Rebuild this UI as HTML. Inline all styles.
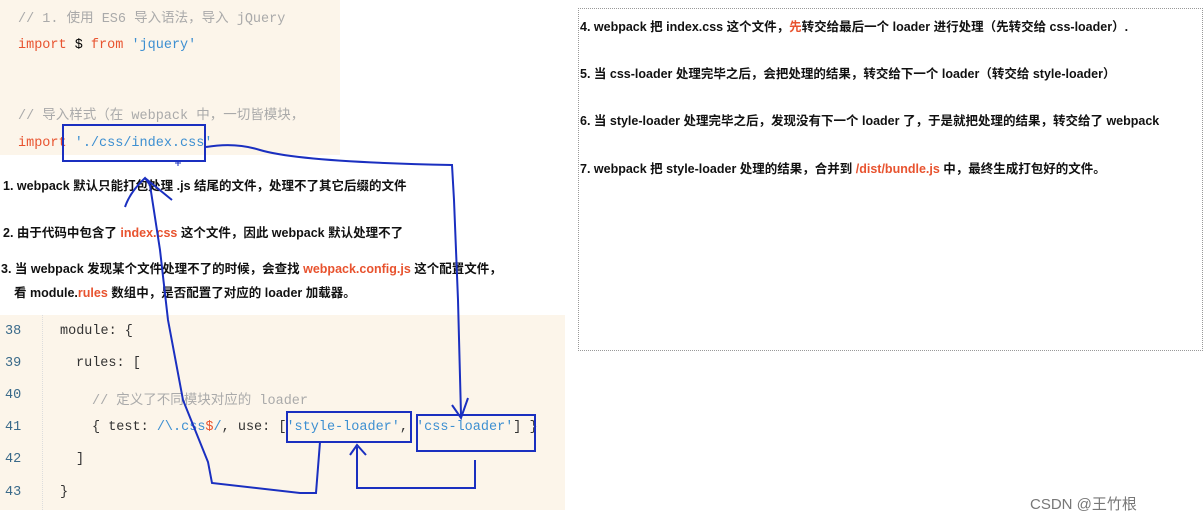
<!DOCTYPE html>
<html><head><meta charset="utf-8"><style>
body{margin:0;width:1203px;height:520px;background:#fff;position:relative;overflow:hidden;font-family:"Liberation Sans","Noto Sans CJK SC",sans-serif}
.a{position:absolute;white-space:nowrap}
.code{font-family:"Liberation Mono","Noto Sans CJK SC",monospace;font-size:13.5px}
.b{font-weight:bold;font-size:12.5px;color:#111}
.r{color:#e8532f}
.kw{color:#e8532f}.s{color:#3d8fd1}.c{color:#aaa}.n{color:#3a6a8a}
</style></head><body>
<div class="a" style="left:0;top:0;width:340px;height:155px;background:#fcf5ea"></div>
<div class="a" style="left:0;top:315px;width:565px;height:195px;background:#fcf5ea"></div>
<div class="a" style="left:42px;top:315px;width:1px;height:195px;border-left:1px dotted #ddd"></div>
<div class="a code c" style="left:18px;top:6px">// 1. 使用 ES6 导入语法，导入 jQuery</div>
<div class="a code" style="left:18px;top:38px"><span class="kw">import</span> $ <span class="kw">from</span> <span class="s">'jquery'</span></div>
<div class="a code c" style="left:18px;top:103px">// 导入样式（在 webpack 中，一切皆模块，</div>
<div class="a code" style="left:18px;top:136px"><span class="kw">import</span> <span class="s">'./css/index.css'</span></div>

<div class="a b" style="left:3px;top:175px">1. webpack 默认只能打包处理 .js 结尾的文件，处理不了其它后缀的文件</div>
<div class="a b" style="left:3px;top:222px">2. 由于代码中包含了 <span class="r">index.css</span> 这个文件，因此 webpack 默认处理不了</div>
<div class="a b" style="left:1px;top:258px">3. 当 webpack 发现某个文件处理不了的时候，会查找 <span class="r">webpack.config.js</span> 这个配置文件，</div>
<div class="a b" style="left:14px;top:282px">看 module.<span class="r">rules</span> 数组中，是否配置了对应的 loader 加载器。</div>

<div class="a code n" style="left:5px;top:324px">38</div>
<div class="a code n" style="left:5px;top:356px">39</div>
<div class="a code n" style="left:5px;top:388px">40</div>
<div class="a code n" style="left:5px;top:420px">41</div>
<div class="a code n" style="left:5px;top:452px">42</div>
<div class="a code n" style="left:5px;top:485px">43</div>
<div class="a code" style="left:60px;top:324px;color:#333">module: {</div>
<div class="a code" style="left:76px;top:356px;color:#333">rules: [</div>
<div class="a code c" style="left:92px;top:388px">// 定义了不同模块对应的 loader</div>
<div class="a code" style="left:92px;top:420px;color:#333">{ test: <span class="s">/\.css</span><span class="kw">$</span><span class="s">/</span>, use: [<span class="s">'style-loader'</span>, <span class="s">'css-loader'</span>] }</div>
<div class="a code" style="left:76px;top:452px;color:#333">]</div>
<div class="a code" style="left:60px;top:485px;color:#333">}</div>

<div class="a" style="left:578px;top:8px;width:623px;height:341px;border:1px dotted #999"></div>
<div class="a b" style="left:580px;top:16px">4. webpack 把 index.css 这个文件，<span class="r">先</span>转交给最后一个 loader 进行处理（先转交给 css-loader）.</div>
<div class="a b" style="left:580px;top:63px">5. 当 css-loader 处理完毕之后，会把处理的结果，转交给下一个 loader（转交给 style-loader）</div>
<div class="a b" style="left:580px;top:110px">6. 当 style-loader 处理完毕之后，发现没有下一个 loader 了，于是就把处理的结果，转交给了 webpack</div>
<div class="a b" style="left:580px;top:158px">7. webpack 把 style-loader 处理的结果，合并到 <span class="r">/dist/bundle.js</span> 中，最终生成打包好的文件。</div>
<div class="a" style="left:1030px;top:493px;font-size:15px;color:#777">CSDN @王竹根</div>

<svg class="a" style="left:0;top:0" width="1203" height="520" fill="none" stroke="#1a2fc0" stroke-width="2">
<rect x="63" y="125" width="142" height="36"/>
<rect x="287" y="412" width="124" height="30"/>
<rect x="417" y="415" width="118" height="36"/>
<path d="M206 147 Q235 142 260 150 Q300 162 452 165 L454 200 L458 300 L461 415"/>
<path d="M452 405 L461 418 L468 398"/>
<path d="M320 442 L316 493 L300 493 L212 483 L208 462 L183 400 L168 320 L160 250 L150 185"/>
<path d="M125 207 Q130 192 145 178 L150 185 M145 178 L172 200"/>
<path d="M475 460 L475 488 L357 488 L357 447 M350 455 L357 445 L366 455"/>
<path d="M178 160 L178 166 M175 163 L181 163" stroke-width="1"/>
</svg>
</body></html>
